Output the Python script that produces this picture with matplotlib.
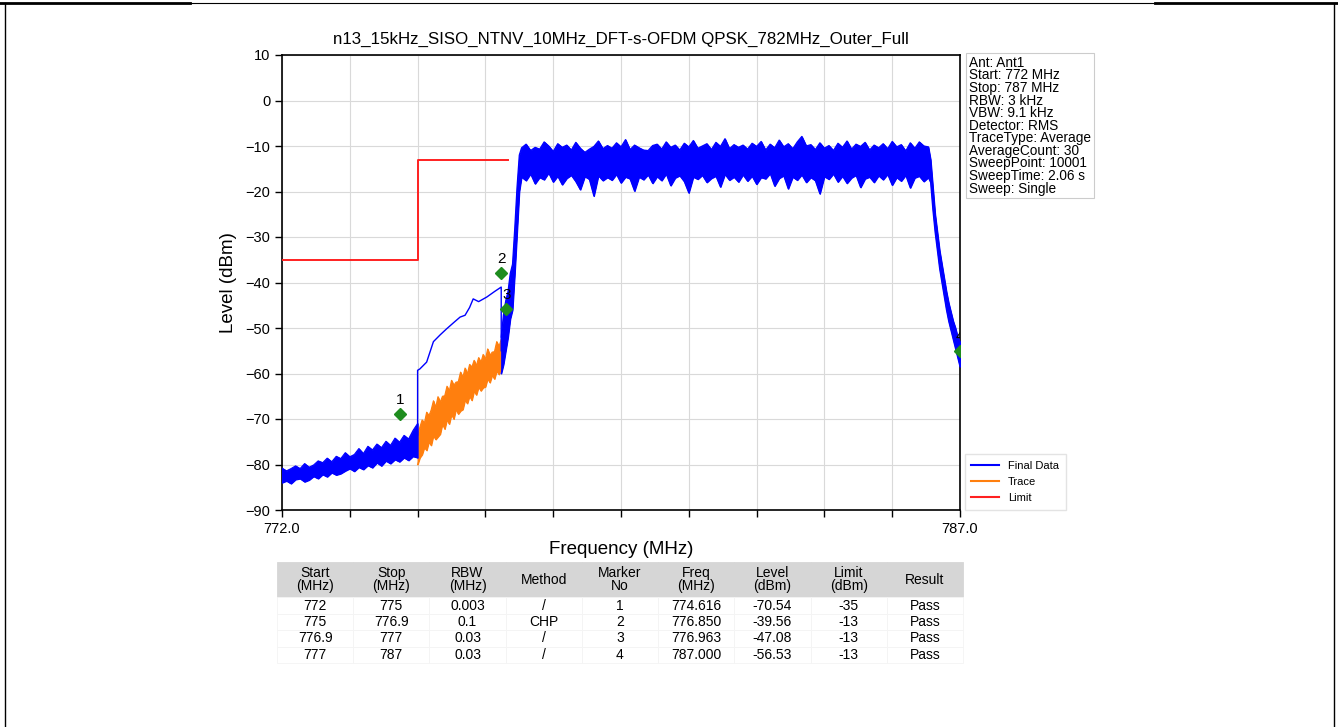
import numpy as np
import matplotlib
matplotlib.use("Agg")
import matplotlib.pyplot as plt
from matplotlib.lines import Line2D

plt.rcParams['font.family'] = ['Liberation Sans', 'DejaVu Sans']

# ---- data ----
# out-of-band emission below 775 MHz (Final Data, blue envelope)
low_f = [772.0, 772.1, 772.2, 772.3, 772.4, 772.5, 772.6, 772.7, 772.8, 772.9,
         773.0, 773.1, 773.2, 773.3, 773.4, 773.5, 773.6, 773.7, 773.8, 773.9,
         774.0, 774.1, 774.2, 774.3, 774.4, 774.5, 774.6, 774.7, 774.8, 774.9, 775.0]
low_hi = [-80.8, -81.4, -80.9, -80.3, -80.9, -79.8, -80.6, -80.1, -79.2, -79.6,
          -78.6, -79.4, -78.2, -78.7, -77.4, -78.3, -77.8, -76.5, -77.6, -76.0,
          -76.8, -75.5, -76.3, -74.9, -75.8, -74.2, -75.1, -73.6, -74.4, -72.5, -71.0]
low_lo = [-84.0, -83.6, -84.2, -83.3, -83.1, -83.8, -83.4, -82.6, -83.1, -82.2,
          -82.7, -81.8, -82.3, -82.0, -81.4, -80.9, -81.5, -80.6, -81.1, -80.2,
          -80.7, -79.6, -80.3, -79.2, -79.8, -78.9, -79.4, -78.5, -79.1, -78.2, -78.5]

# CHP result line (Final Data) 775 - 776.85 MHz
chp_f = [775.0, 775.0, 775.05, 775.2, 775.35, 775.5, 775.64, 775.8, 775.94, 776.05,
         776.15, 776.23, 776.35, 776.53, 776.7, 776.85, 776.85]
chp_lvl = [-73.5, -59.3, -59.0, -57.5, -53.0, -51.5, -50.2, -48.8, -47.6, -47.2,
           -45.5, -43.6, -44.2, -43.2, -42.0, -41.0, -55.0]

# raw trace (orange) 775 - 776.85 MHz
trace_f = [775.0, 775.05, 775.1, 775.15, 775.2, 775.25, 775.3, 775.35, 775.4, 775.45,
           775.5, 775.55, 775.6, 775.65, 775.7, 775.75, 775.8, 775.85, 775.9, 775.95,
           776.0, 776.05, 776.1, 776.15, 776.2, 776.25, 776.3, 776.35, 776.4, 776.45,
           776.5, 776.55, 776.6, 776.65, 776.7, 776.75, 776.8, 776.85]
trace_hi = [-73.5, -71.8, -70.2, -70.9, -68.5, -69.3, -68.0, -66.0, -67.5, -65.1,
            -66.3, -65.0, -64.9, -62.8, -63.9, -61.5, -62.6, -61.9, -61.8, -59.7,
            -60.9, -58.8, -60.1, -58.0, -58.6, -57.1, -58.3, -56.5, -57.6, -55.8,
            -56.9, -54.6, -56.0, -55.3, -55.2, -53.0, -54.1, -52.5]
trace_lo = [-80.0, -78.5, -77.8, -76.2, -76.9, -75.0, -75.8, -73.6, -74.5, -73.9,
            -73.3, -71.0, -72.2, -70.1, -71.1, -68.9, -70.0, -67.8, -68.9, -68.2,
            -67.9, -65.8, -66.6, -64.9, -65.9, -63.8, -64.7, -62.9, -63.8, -63.1,
            -62.9, -61.1, -62.0, -60.3, -61.2, -59.4, -60.2, -58.5]

# channel edge rise 776.85 - 777.25 MHz
rise_f = [776.85, 776.9, 776.95, 777.0, 777.05, 777.1, 777.15, 777.2, 777.25]
rise_hi = [-52.0, -47.0, -44.0, -42.0, -38.0, -36.0, -28.0, -19.0, -12.0]
rise_lo = [-60.0, -58.0, -55.0, -52.0, -48.0, -46.0, -38.0, -29.0, -20.0]

# in-band 777.3 - 786.3 MHz, 0.1 MHz grid
band_hi = [-10.4, -9.6, -11.0, -10.3, -10.7, -9.1, -10.0, -11.2, -9.5, -10.3,
           -9.8, -10.9, -9.2, -10.5, -11.4, -10.7, -10.1, -8.9, -10.6, -9.9,
           -10.5, -9.3, -10.2, -8.6, -10.8, -9.8, -10.4, -10.9, -11.0, -9.9,
           -9.6, -10.7, -9.1, -10.3, -9.8, -10.9, -9.4, -10.2, -8.8, -10.5,
           -10.0, -9.5, -10.8, -9.2, -10.1, -8.4, -10.6, -9.7, -10.3, -9.8,
           -10.7, -9.4, -10.1, -9.0, -10.9, -9.6, -10.4, -8.7, -10.2, -9.5,
           -10.6, -9.1, -7.9, -10.0, -9.7, -10.8, -9.3, -10.5, -9.9, -11.0,
           -9.4, -10.3, -8.9, -10.7, -9.6, -10.1, -9.2, -10.9, -9.8, -10.4,
           -9.5, -10.6, -9.0, -10.2, -9.7, -11.1, -9.3, -10.5, -9.1, -10.0,
           -10.2]
band_lo = [-16.8, -17.6, -16.1, -18.3, -16.9, -17.4, -15.9, -17.9, -16.6, -18.5,
           -17.1, -16.4, -17.8, -19.6, -16.7, -17.3, -21.0, -16.5, -17.6, -16.9,
           -17.5, -16.2, -18.1, -16.8, -17.2, -19.9, -16.8, -17.4, -16.3, -18.2,
           -16.7, -17.6, -16.1, -18.7, -17.0, -16.5, -17.8, -20.3, -16.8, -17.3,
           -16.4, -18.0, -17.1, -16.6, -19.0, -16.2, -17.5, -16.8, -17.9, -16.3,
           -17.7, -16.6, -18.4, -16.9, -17.2, -16.0, -18.8, -17.1, -16.5, -19.4,
           -16.8, -17.5, -16.3, -18.0, -16.9, -17.6, -20.5, -16.7, -17.3, -16.1,
           -17.9, -16.6, -18.2, -17.0, -16.4, -19.1, -17.2, -16.8, -18.0, -16.5,
           -17.4, -16.2, -18.6, -16.9, -17.7, -16.4, -19.2, -17.0, -16.6, -17.8,
           -16.9]
band_f = np.linspace(777.3, 786.3, len(band_hi))

# upper edge fall-off 786.35 - 787 MHz
fall_f = [786.35, 786.4, 786.45, 786.5, 786.55, 786.6, 786.65, 786.7, 786.75,
          786.8, 786.85, 786.9, 786.95, 787.0]
fall_hi = [-13.0, -19.0, -25.0, -29.0, -33.0, -36.0, -39.0, -42.0, -44.5,
           -46.5, -48.5, -50.0, -52.0, -53.0]
fall_lo = [-18.0, -24.0, -29.0, -33.0, -37.0, -40.0, -43.0, -46.0, -48.5,
           -50.5, -52.5, -54.5, -56.5, -58.5]

# limit line
limit_f = [772.0, 775.0, 775.0, 777.0]
limit_lvl = [-35, -35, -13, -13]

# markers
marker_no = [1, 2, 3, 4]
marker_f = [774.616, 776.850, 776.963, 787.000]
marker_plot_lvl = [-69.0, -38.0, -45.8, -55.0]

info_lines = ["Ant: Ant1", "Start: 772 MHz", "Stop: 787 MHz", "RBW: 3 kHz", "VBW: 9.1 kHz",
              "Detector: RMS", "TraceType: Average", "AverageCount: 30", "SweepPoint: 10001",
              "SweepTime: 2.06 s", "Sweep: Single"]

# result table
col_labels = ["Start\n(MHz)", "Stop\n(MHz)", "RBW\n(MHz)", "Method", "Marker\nNo",
              "Freq\n(MHz)", "Level\n(dBm)", "Limit\n(dBm)", "Result"]
tbl_start = ["772", "775", "776.9", "777"]
tbl_stop = ["775", "776.9", "777", "787"]
tbl_rbw = ["0.003", "0.1", "0.03", "0.03"]
tbl_method = ["/", "CHP", "/", "/"]
tbl_freq = ["774.616", "776.850", "776.963", "787.000"]
tbl_level = ["-70.54", "-39.56", "-47.08", "-56.53"]
tbl_limit = ["-35", "-13", "-13", "-13"]
tbl_result = ["Pass", "Pass", "Pass", "Pass"]

# ---- figure ----
W, H = 1338, 727
fig = plt.figure(figsize=(W / 100, H / 100), dpi=100)
ax = fig.add_axes([282 / W, 1 - 510 / H, (960 - 282) / W, (510 - 55) / H])

blue = '#0000ff'
orange = '#ff7f0e'

ax.fill_between(low_f, low_lo, low_hi, color=blue, lw=0.8, zorder=3)
ax.plot(low_f, low_hi, color=blue, lw=0.8, zorder=3)
ax.plot(low_f, low_lo, color=blue, lw=0.8, zorder=3)

hi_f = list(rise_f) + list(band_f) + list(fall_f)
up = list(rise_hi) + list(band_hi) + list(fall_hi)
dn = list(rise_lo) + list(band_lo) + list(fall_lo)
ax.fill_between(hi_f, dn, up, color=blue, lw=0.8, zorder=3)
ax.plot(hi_f, up, color=blue, lw=0.9, zorder=3)
ax.plot(hi_f, dn, color=blue, lw=0.9, zorder=3)

ax.fill_between(trace_f, trace_lo, trace_hi, color=orange, lw=0.8, zorder=2)
ax.plot(trace_f, trace_hi, color=orange, lw=0.8, zorder=2)
ax.plot(trace_f, trace_lo, color=orange, lw=0.8, zorder=2)

ax.plot(chp_f, chp_lvl, color=blue, lw=1.0, zorder=3)
ax.plot(limit_f, limit_lvl, color='#ff2020', lw=1.4, zorder=4)

ax.plot(marker_f, marker_plot_lvl, 'D', color='#1e8c1e', ms=6.5, zorder=6, ls='none')
for n, f, l in zip(marker_no, marker_f, marker_plot_lvl):
    ax.text(f, l + 1.6, str(n), ha='center', va='bottom', fontsize=11, zorder=7, clip_on=True)

ax.set_xlim(772, 787)
ax.set_ylim(-90, 10)
xt = np.linspace(772, 787, 11)
ax.set_xticks(xt)
ax.set_xticklabels(['772.0'] + [''] * 9 + ['787.0'])
ax.set_yticks(np.arange(-90, 11, 10))
ax.tick_params(labelsize=10.5, length=5, width=1)
ax.grid(True, color='#d9d9d9', lw=0.8)
ax.set_axisbelow(True)
for s in ax.spines.values():
    s.set_linewidth(1.2)
ax.set_xlabel("Frequency (MHz)", fontsize=13.5, labelpad=4)
ax.set_ylabel("Level (dBm)", fontsize=13.5, labelpad=6)
ax.set_title("n13_15kHz_SISO_NTNV_10MHz_DFT-s-OFDM QPSK_782MHz_Outer_Full", fontsize=12.2, pad=8)

# legend outside, lower right
handles = [Line2D([], [], color=blue, lw=1.5), Line2D([], [], color=orange, lw=1.5),
           Line2D([], [], color='#ff2020', lw=1.5)]
leg = ax.legend(handles, ["Final Data", "Trace", "Limit"], loc='lower left',
                bbox_to_anchor=(1.007, 0.0), borderaxespad=0, fontsize=8, frameon=True,
                fancybox=False, edgecolor='#dddddd', handlelength=2.5, borderpad=0.6,
                labelspacing=0.55)

# info box
ax.text(1.013, 0.998, "\n".join(info_lines), transform=ax.transAxes, ha='left', va='top',
        fontsize=9.8, linespacing=0.87,
        bbox=dict(boxstyle='square,pad=0.2', facecolor='white', edgecolor='#cccccc', lw=0.8))

# table
tax = fig.add_axes([277 / W, 1 - 663 / H, (963 - 277) / W, (663 - 562) / H])
tax.axis('off')
rows = [list(r) for r in zip(tbl_start, tbl_stop, tbl_rbw, tbl_method,
                             [str(n) for n in marker_no], tbl_freq, tbl_level, tbl_limit, tbl_result)]
tbl = tax.table(cellText=rows, colLabels=col_labels, cellLoc='center', bbox=[0, 0, 1, 1])
tbl.auto_set_font_size(False)
tbl.set_fontsize(10)
hdr_h = 0.35
row_h = (1 - hdr_h) / len(rows)
for (r, c), cell in tbl.get_celld().items():
    cell.set_linewidth(0.6)
    if r == 0:
        cell.set_height(hdr_h)
        cell.set_facecolor('#d6d6d6')
        cell.set_edgecolor('#d6d6d6')
    else:
        cell.set_height(row_h)
        cell.set_facecolor('white')
        cell.set_edgecolor('#f4f4f4')
    cell.get_text().set_linespacing(0.95)

# page frame
fig.add_artist(Line2D([5 / W, 5 / W], [0, 1 - 3 / H], color='black', lw=1.0))
fig.add_artist(Line2D([1 - 4 / W, 1 - 4 / W], [0, 1 - 3 / H], color='black', lw=1.0))
fig.add_artist(Line2D([0, 190 / W], [1 - 3 / H, 1 - 3 / H], color='black', lw=2.0))
fig.add_artist(Line2D([190 / W, 1155 / W], [1 - 3 / H, 1 - 3 / H], color='black', lw=0.8))
fig.add_artist(Line2D([1155 / W, 1], [1 - 3 / H, 1 - 3 / H], color='black', lw=2.0))

fig.savefig("out.png", dpi=100)
